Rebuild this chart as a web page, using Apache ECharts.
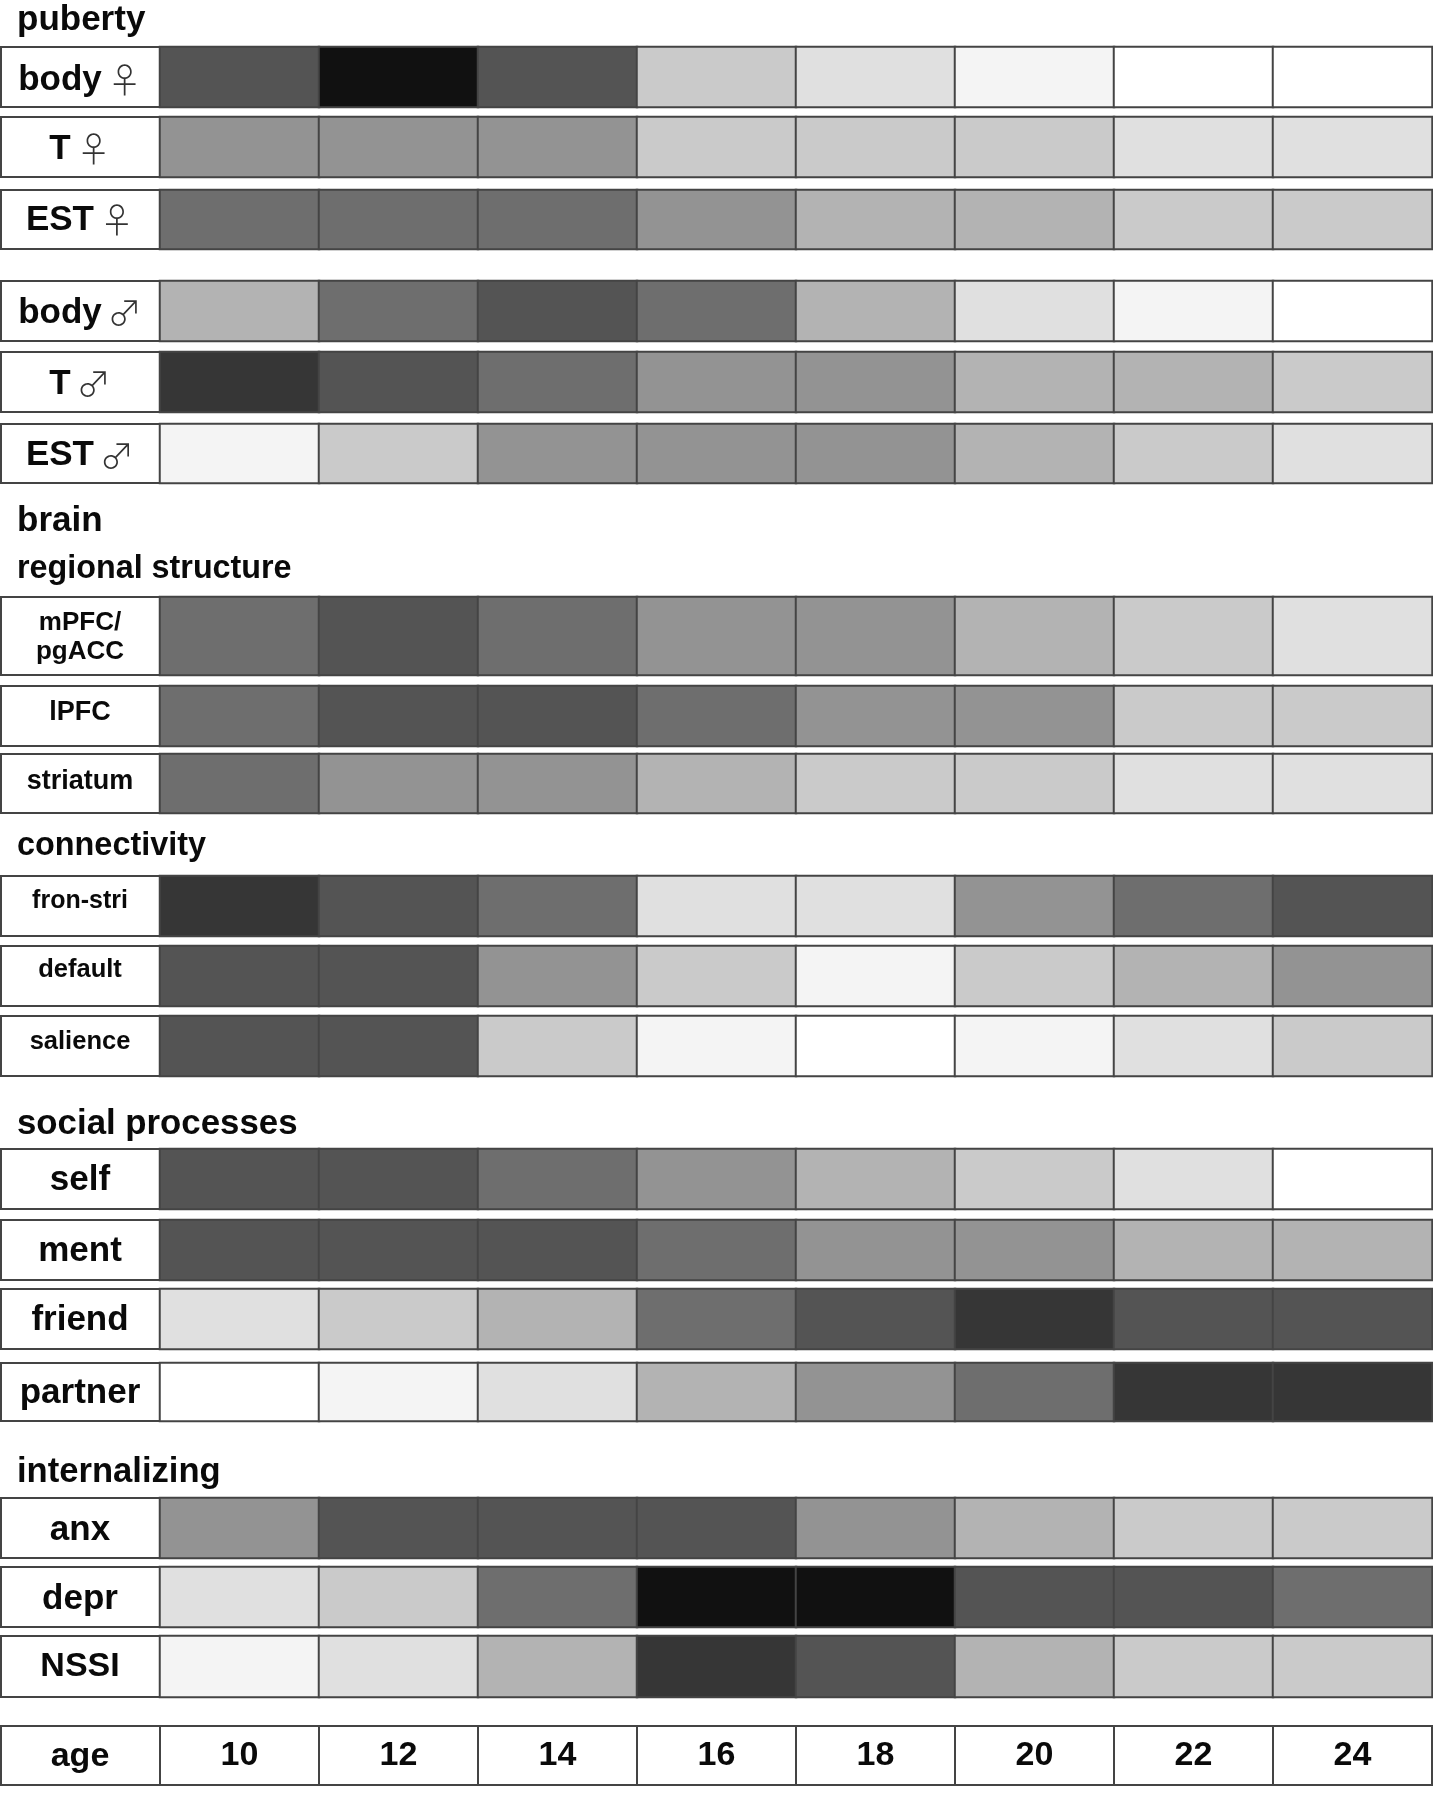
<!DOCTYPE html>
<html><head><meta charset="utf-8">
<style>html,body{margin:0;padding:0;background:#fff}#c{width:1433px;height:1800px}</style>
<script src="https://cdn.jsdelivr.net/npm/echarts@6/dist/echarts.min.js"></script>
</head><body><div id="c"></div>
<script>
const ages = ['10','12','14','16','18','20','22','24'];
// shade level per age: 0 = white ... 9 = near black
const bodyF = [7,9,7,3,2,1,0,0];
const tF = [5,5,5,3,3,3,2,2];
const estF = [6,6,6,5,4,4,3,3];
const bodyM = [4,6,7,6,4,2,1,0];
const tM = [8,7,6,5,5,4,4,3];
const estM = [1,3,5,5,5,4,3,2];
const mpfc = [6,7,6,5,5,4,3,2];
const lpfc = [6,7,7,6,5,5,3,3];
const striatum = [6,5,5,4,3,3,2,2];
const fronStri = [8,7,6,2,2,5,6,7];
const defaultNet = [7,7,5,3,1,3,4,5];
const salience = [7,7,3,1,0,1,2,3];
const self = [7,7,6,5,4,3,2,0];
const ment = [7,7,7,6,5,5,4,4];
const friend = [2,3,4,6,7,8,7,7];
const partner = [0,1,2,4,5,6,8,8];
const anx = [5,7,7,7,5,4,3,3];
const depr = [2,3,6,9,9,7,7,6];
const nssi = [1,2,4,8,7,4,3,3];
const shades = ['#ffffff','#f4f4f4','#e0e0e0','#cacaca','#b3b3b3','#939393','#6e6e6e','#545454','#363636','#111111'];

// label, values, top, bottom, font size, label shift upward in px
const rows = [
 ['body ♀',bodyF,47,107,35,-3.4],
 ['T ♀',tF,117,177,35,-2.3],
 ['EST ♀',estF,190,249,35,-0.5],
 ['body ♂',bodyM,281,341,35,-2.3],
 ['T ♂',tM,352,412,35,-2.3],
 ['EST ♂',estM,424,483,35,-2.3],
 ['mPFC/\npgACC',mpfc,597,675,26,-1.5],
 ['lPFC',lpfc,686,746,27,3],
 ['striatum',striatum,754,813,27,2],
 ['fron-stri',fronStri,876,936,25,5],
 ['default',defaultNet,946,1006,25.5,6],
 ['salience',salience,1016,1076,25.5,4],
 ['self',self,1149,1209,35,-1],
 ['ment',ment,1220,1280,35,-1],
 ['friend',friend,1289,1349,35,-1],
 ['partner',partner,1363,1421,35,-1],
 ['anx',anx,1498,1558,35,-2],
 ['depr',depr,1567,1627,35,-2],
 ['NSSI',nssi,1636,1697,34,0],
];
const ageRow = ['age',1726,1785,34,-1];
const headings = [['puberty',17,3,35],['brain',17,504,35],['regional structure',17,553,32.3],['connectivity',17,830,32.4],['social processes',17,1107,34.8],['internalizing',17,1455,34.6]];

const FONT = '"Liberation Sans", Arial, sans-serif';
const LEFT = 160, WIDTH = 1272;
const EDGE = '#444444';

function labelFormatter(){
  return v => {
    const m = v.match(/^(.*) ([♀♂])$/);
    return m ? '{t|'+m[1]+'}{g| }{s|'+m[2]+'}' : '{t|'+v+'}';
  };
}
function yAxisFor(i,label,size,shift){
  const pad = shift>0 ? [0,0,2*shift,0] : [-2*shift,0,0,0];
  return {type:'category',gridIndex:i,data:[label],axisLine:{show:false},axisTick:{show:false},splitLine:{show:false},
    axisLabel:{show:true,margin:LEFT/2,align:'center',color:'#0a0a0a',fontFamily:FONT,fontWeight:'bold',fontSize:size,lineHeight:size*1.1,
      padding:pad,formatter:labelFormatter(),
      rich:{t:{fontFamily:FONT,fontWeight:'bold',fontSize:size,color:'#0a0a0a',lineHeight:size*1.1},
            g:{fontFamily:FONT,fontSize:size*0.6},
            s:{fontFamily:'"Noto Sans CJK JP"',fontWeight:300,fontSize:size*0.98,color:'#333'}}}};
}
const grids=[],xAxes=[],yAxes=[],series=[],boxes=[];
rows.forEach((r,i)=>{
  const [label,vals,top,bottom,size,shift]=r;
  grids.push({left:LEFT,width:WIDTH,top:top,height:bottom-top,show:false});
  xAxes.push({type:'category',gridIndex:i,data:ages,show:false});
  yAxes.push(yAxisFor(i,label,size,shift));
  series.push({type:'heatmap',xAxisIndex:i,yAxisIndex:i,data:vals.map((v,k)=>[k,0,v]),
    progressive:0,itemStyle:{borderColor:EDGE,borderWidth:2},emphasis:{disabled:true}});
  boxes.push({type:'rect',shape:{x:1,y:top,width:LEFT-1,height:bottom-top},style:{fill:'none',stroke:EDGE,lineWidth:2},silent:true});
});
const n=rows.length;
grids.push({left:LEFT,width:WIDTH,top:ageRow[1],height:ageRow[2]-ageRow[1],show:true,borderColor:EDGE,borderWidth:2,backgroundColor:'#fff'});
xAxes.push({type:'category',gridIndex:n,data:ages,axisLine:{show:false},axisTick:{show:false},
  splitLine:{show:true,interval:0,lineStyle:{color:EDGE,width:2}},
  axisLabel:{interval:0,inside:true,margin:12,color:'#0a0a0a',fontFamily:FONT,fontWeight:'bold',fontSize:ageRow[3]}});
yAxes.push(yAxisFor(n,ageRow[0],ageRow[3],ageRow[4]));
boxes.push({type:'rect',shape:{x:1,y:ageRow[1],width:LEFT-1,height:ageRow[2]-ageRow[1]},style:{fill:'none',stroke:EDGE,lineWidth:2},silent:true});

const option={
  backgroundColor:'#fff',animation:false,
  title:headings.map(h=>({text:h[0],left:h[1],top:h[2],padding:0,textStyle:{fontFamily:FONT,fontWeight:'bold',fontSize:h[3],color:'#0a0a0a'}})),
  tooltip:{show:false},
  grid:grids,xAxis:xAxes,yAxis:yAxes,series:series,
  visualMap:{type:'piecewise',show:false,seriesIndex:series.map((s,i)=>i),dimension:2,
    pieces:shades.map((c,k)=>({value:k,color:c}))},
  graphic:boxes
};
echarts.init(document.getElementById('c'),null,{renderer:'canvas'}).setOption(option);
</script></body></html>
